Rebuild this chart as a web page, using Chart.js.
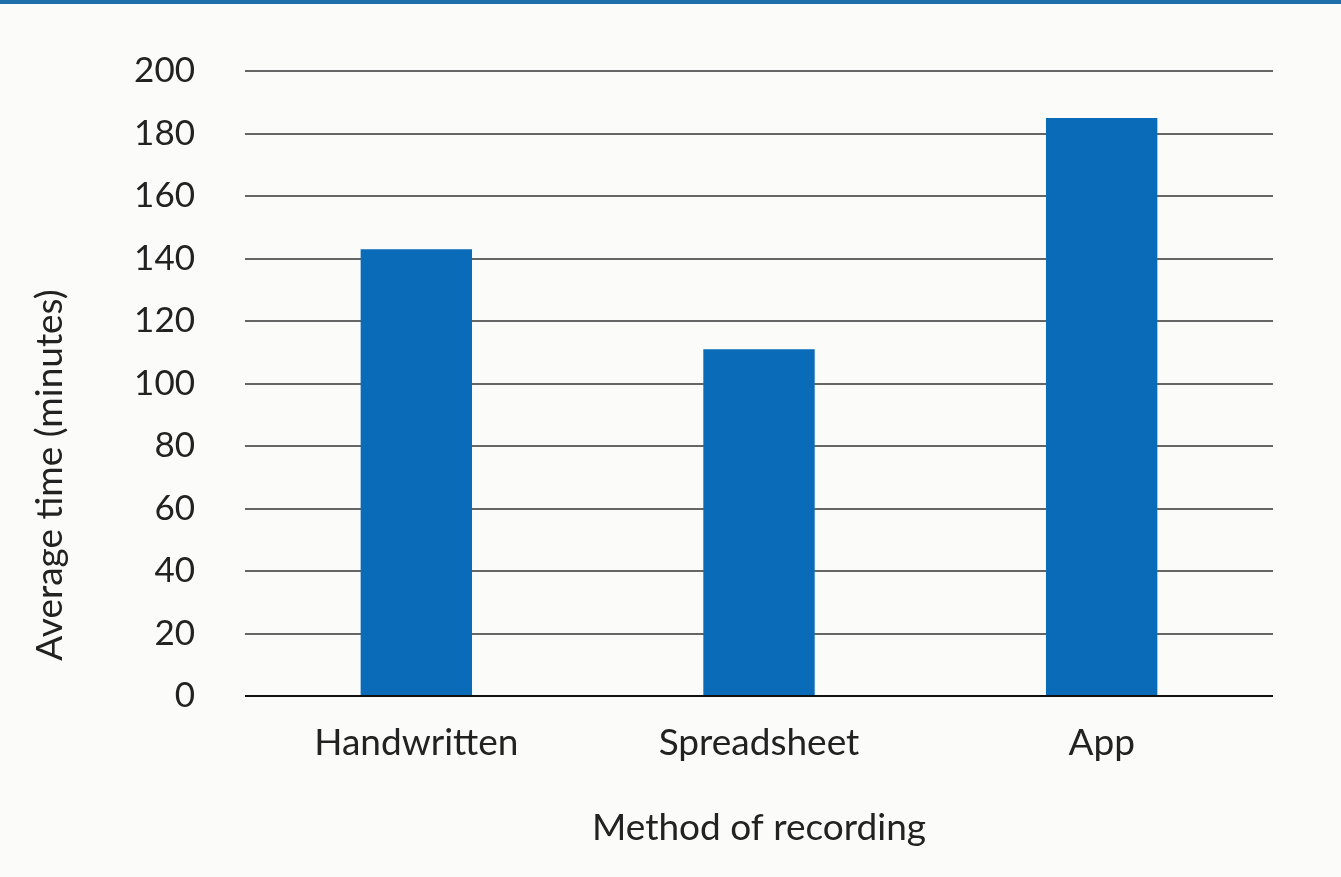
<!DOCTYPE html>
<html>
<head>
<meta charset="utf-8">
<script src="https://cdn.jsdelivr.net/npm/chart.js@4/dist/chart.umd.min.js"></script>
<style>
  html, body { margin: 0; padding: 0; background: #fbfbf9; }
  #wrap { position: relative; width: 1341px; height: 877px; background: #fbfbf9; }
  #bar { position: absolute; left: 0; top: 0; width: 1341px; height: 4px; background: #1e6fae; }
  canvas { position: absolute; left: 0; top: 0; }
</style>
</head>
<body>
<div id="wrap">
  <canvas id="c" width="1341" height="877"></canvas>
  <div id="bar"></div>
</div>
<script>
const categories = ['Handwritten', 'Spreadsheet', 'App'];
const averageMinutes = [143, 111, 185];
const yTicks = [0, 20, 40, 60, 80, 100, 120, 140, 160, 180, 200];
const yTitle = 'Average time (minutes)';
const xTitle = 'Method of recording';

const fontFamily = 'Lato, "Noto Sans", sans-serif';
const textColor = '#222222';

// Vertical axis title, drawn a little below the plot's middle.
const yTitlePlugin = {
  id: 'yTitle',
  afterDraw(chart) {
    const { ctx, chartArea } = chart;
    ctx.save();
    ctx.fillStyle = textColor;
    ctx.font = '37px ' + fontFamily;
    ctx.textAlign = 'center';
    ctx.textBaseline = 'alphabetic';
    ctx.translate(62, chartArea.bottom - 221);
    ctx.rotate(-Math.PI / 2);
    ctx.fillText(yTitle, 0, 0);
    ctx.restore();
  }
};

new Chart(document.getElementById('c'), {
  type: 'bar',
  data: {
    labels: categories,
    datasets: [{
      data: averageMinutes,
      backgroundColor: '#0a6cb9',
      borderWidth: 0,
      barPercentage: 0.65,
      categoryPercentage: 0.5
    }]
  },
  options: {
    responsive: false,
    animation: false,
    layout: { padding: { top: 64, right: 68, left: 34, bottom: 27 } },
    plugins: { legend: { display: false }, tooltip: { enabled: false } },
    scales: {
      x: {
        grid: { display: false, drawTicks: false },
        border: { display: false },
        ticks: { color: textColor, font: { family: fontFamily, size: 37 }, padding: 25 },
        title: {
          display: true, text: xTitle, color: textColor,
          font: { family: fontFamily, size: 37 }, padding: 0
        },
        afterFit(scale) { scale.height = 154; }
      },
      y: {
        min: 0, max: 200,
        afterBuildTicks(scale) { scale.ticks = yTicks.map(v => ({ value: v })); },
        grid: {
          drawTicks: false,
          color: ctx => ctx.tick && ctx.tick.value === 0 ? '#111111' : '#666666',
          lineWidth: 2
        },
        border: { display: false },
        ticks: { color: textColor, font: { family: fontFamily, size: 35 }, padding: 50 },
        title: { display: false },
        afterFit(scale) { scale.width = 211; }
      }
    }
  },
  plugins: [yTitlePlugin]
});
</script>
</body>
</html>
